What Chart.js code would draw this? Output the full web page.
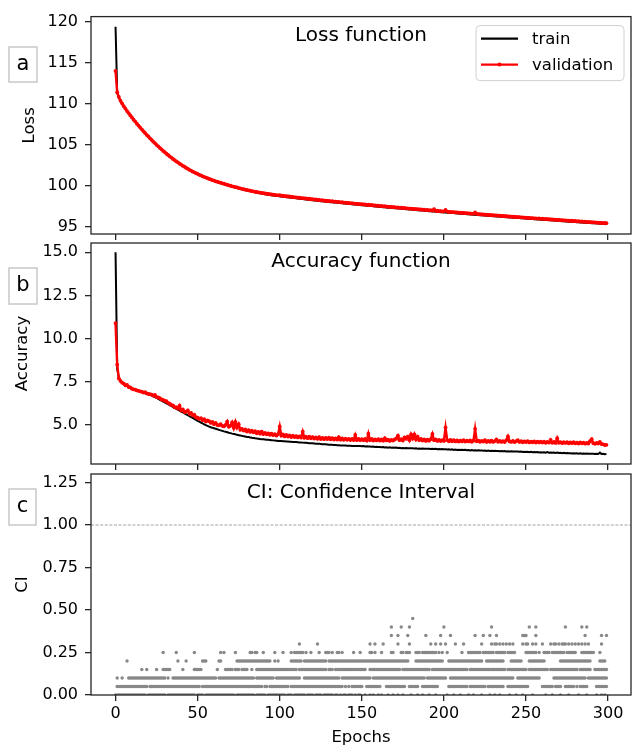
<!DOCTYPE html>
<html>
<head>
<meta charset="utf-8">
<script src="https://cdn.jsdelivr.net/npm/chart.js@4/dist/chart.umd.min.js"></script>
<style>
  html, body { margin: 0; padding: 0; background: #fff; }
  #wrap { position: relative; width: 635px; height: 751px; }
  #wrap canvas { position: absolute; left: 0; top: 0; }
</style>
</head>
<body>
<div id="wrap">
  <canvas id="lossChart" width="635" height="751"></canvas>
  <canvas id="accChart" width="635" height="751"></canvas>
  <canvas id="ciChart" width="635" height="751"></canvas>
</div>
<script>
// one value per epoch (0..299)
const lossTrain = [
  119.4, 111.3, 110.75, 110.35, 110.0, 109.68, 109.38, 109.1, 108.83, 108.56,
  108.3, 108.05, 107.8, 107.55, 107.31, 107.08, 106.85, 106.62, 106.4, 106.19,
  105.98, 105.77, 105.56, 105.36, 105.17, 104.97, 104.78, 104.6, 104.41, 104.24,
  104.06, 103.89, 103.73, 103.56, 103.4, 103.25, 103.09, 102.95, 102.81, 102.67,
  102.54, 102.41, 102.28, 102.15, 102.03, 101.92, 101.81, 101.7, 101.6, 101.5,
  101.4, 101.31, 101.22, 101.13, 101.04, 100.96, 100.88, 100.8, 100.73, 100.65,
  100.58, 100.51, 100.44, 100.38, 100.31, 100.25, 100.19, 100.13, 100.07, 100.01,
  99.95, 99.89, 99.84, 99.78, 99.73, 99.67, 99.62, 99.57, 99.52, 99.47,
  99.42, 99.38, 99.33, 99.29, 99.24, 99.2, 99.16, 99.13, 99.09, 99.05,
  99.02, 98.98, 98.95, 98.92, 98.89, 98.86, 98.83, 98.8, 98.77, 98.75,
  98.72, 98.69, 98.67, 98.64, 98.62, 98.6, 98.57, 98.55, 98.52, 98.5,
  98.47, 98.45, 98.43, 98.4, 98.38, 98.36, 98.33, 98.31, 98.29, 98.26,
  98.24, 98.22, 98.2, 98.18, 98.16, 98.13, 98.11, 98.09, 98.07, 98.05,
  98.03, 98.01, 97.99, 97.97, 97.95, 97.93, 97.91, 97.89, 97.87, 97.85,
  97.83, 97.81, 97.79, 97.77, 97.75, 97.73, 97.71, 97.69, 97.67, 97.65,
  97.64, 97.62, 97.6, 97.58, 97.56, 97.54, 97.53, 97.51, 97.49, 97.47,
  97.45, 97.43, 97.42, 97.4, 97.38, 97.36, 97.34, 97.33, 97.31, 97.29,
  97.27, 97.25, 97.24, 97.22, 97.2, 97.18, 97.17, 97.15, 97.13, 97.11,
  97.1, 97.08, 97.06, 97.05, 97.03, 97.01, 96.99, 96.98, 96.96, 96.94,
  96.93, 96.91, 96.89, 96.88, 96.86, 96.84, 96.83, 96.81, 96.79, 96.78,
  96.76, 96.74, 96.73, 96.71, 96.7, 96.68, 96.67, 96.65, 96.63, 96.62,
  96.6, 96.59, 96.57, 96.56, 96.54, 96.53, 96.51, 96.49, 96.48, 96.46,
  96.45, 96.43, 96.42, 96.4, 96.39, 96.37, 96.36, 96.34, 96.33, 96.31,
  96.3, 96.28, 96.27, 96.25, 96.24, 96.22, 96.21, 96.19, 96.18, 96.16,
  96.15, 96.13, 96.12, 96.1, 96.09, 96.07, 96.06, 96.04, 96.03, 96.01,
  96.0, 95.99, 95.97, 95.96, 95.94, 95.93, 95.91, 95.9, 95.89, 95.87,
  95.86, 95.84, 95.83, 95.82, 95.8, 95.79, 95.77, 95.76, 95.75, 95.73,
  95.72, 95.7, 95.69, 95.68, 95.66, 95.65, 95.63, 95.62, 95.61, 95.59,
  95.58, 95.57, 95.55, 95.54, 95.53, 95.51, 95.5, 95.48, 95.47, 95.46,
  95.44, 95.43, 95.42, 95.4, 95.39, 95.38, 95.36, 95.35, 95.34, 95.32
];

const lossVal = [
  114.0, 111.4, 110.85, 110.38, 110.04, 109.71, 109.42, 109.12, 108.87, 108.58,
  108.34, 108.07, 107.84, 107.57, 107.35, 107.1, 106.89, 106.64, 106.44, 106.21,
  106.02, 105.79, 105.6, 105.38, 105.21, 104.99, 104.82, 104.62, 104.45, 104.26,
  104.1, 103.91, 103.77, 103.58, 103.44, 103.27, 103.14, 102.97, 102.86, 102.7,
  102.59, 102.44, 102.33, 102.18, 102.08, 101.95, 101.86, 101.73, 101.65, 101.53,
  101.46, 101.34, 101.28, 101.16, 101.1, 101.0, 100.94, 100.84, 100.79, 100.69,
  100.64, 100.55, 100.51, 100.42, 100.38, 100.3, 100.26, 100.18, 100.14, 100.06,
  100.02, 99.94, 99.91, 99.84, 99.81, 99.73, 99.7, 99.63, 99.6, 99.53,
  99.51, 99.44, 99.42, 99.35, 99.33, 99.27, 99.25, 99.2, 99.18, 99.13,
  99.11, 99.06, 99.05, 99.0, 98.98, 98.94, 98.93, 98.89, 98.87, 98.84,
  98.85, 98.79, 98.8, 98.74, 98.75, 98.7, 98.7, 98.65, 98.65, 98.6,
  98.6, 98.55, 98.56, 98.5, 98.51, 98.46, 98.46, 98.41, 98.42, 98.36,
  98.37, 98.32, 98.33, 98.28, 98.29, 98.23, 98.24, 98.19, 98.2, 98.15,
  98.16, 98.11, 98.12, 98.07, 98.08, 98.03, 98.04, 97.99, 98.0, 97.95,
  97.96, 97.91, 97.92, 97.87, 97.88, 97.83, 97.84, 97.79, 97.8, 97.75,
  97.77, 97.72, 97.73, 97.68, 97.69, 97.64, 97.66, 97.61, 97.62, 97.57,
  97.58, 97.53, 97.55, 97.5, 97.51, 97.46, 97.47, 97.43, 97.44, 97.39,
  97.4, 97.35, 97.37, 97.32, 97.33, 97.28, 97.3, 97.25, 97.26, 97.21,
  97.23, 97.18, 97.19, 97.15, 97.16, 97.11, 97.12, 97.08, 97.09, 97.04,
  97.06, 97.01, 97.02, 96.98, 97.16, 96.94, 96.96, 96.91, 96.92, 96.88,
  96.89, 97.06, 96.86, 96.81, 96.83, 96.78, 96.8, 96.75, 96.76, 96.72,
  96.73, 96.69, 96.7, 96.66, 96.67, 96.63, 96.64, 96.59, 96.61, 96.76,
  96.58, 96.53, 96.55, 96.5, 96.52, 96.47, 96.49, 96.44, 96.46, 96.41,
  96.43, 96.38, 96.4, 96.35, 96.37, 96.32, 96.34, 96.29, 96.31, 96.26,
  96.28, 96.23, 96.25, 96.2, 96.22, 96.17, 96.19, 96.14, 96.16, 96.11,
  96.13, 96.09, 96.1, 96.06, 96.07, 96.03, 96.04, 96.0, 96.02, 95.97,
  95.99, 95.94, 95.96, 95.92, 95.93, 95.89, 95.9, 95.86, 95.88, 95.83,
  95.85, 95.8, 95.82, 95.78, 95.79, 95.75, 95.76, 95.72, 95.74, 95.69,
  95.71, 95.67, 95.68, 95.64, 95.66, 95.61, 95.63, 95.58, 95.6, 95.56,
  95.57, 95.53, 95.55, 95.5, 95.52, 95.48, 95.49, 95.45, 95.47, 95.45
];

const accTrain = [
  15.0, 8.25, 7.75, 7.55, 7.45, 7.38, 7.32, 7.27, 7.2, 7.14,
  7.08, 7.05, 7.02, 6.99, 6.96, 6.93, 6.9, 6.87, 6.84, 6.81,
  6.78, 6.75, 6.71, 6.67, 6.62, 6.57, 6.52, 6.46, 6.41, 6.36,
  6.31, 6.26, 6.21, 6.15, 6.1, 6.05, 5.99, 5.94, 5.89, 5.83,
  5.78, 5.73, 5.67, 5.62, 5.57, 5.51, 5.46, 5.41, 5.35, 5.3,
  5.24, 5.19, 5.14, 5.09, 5.04, 4.99, 4.95, 4.91, 4.87, 4.84,
  4.81, 4.78, 4.75, 4.72, 4.69, 4.66, 4.63, 4.61, 4.58, 4.55,
  4.53, 4.5, 4.48, 4.46, 4.43, 4.41, 4.39, 4.37, 4.35, 4.33,
  4.31, 4.3, 4.28, 4.26, 4.25, 4.23, 4.22, 4.21, 4.19, 4.18,
  4.17, 4.16, 4.15, 4.14, 4.13, 4.12, 4.11, 4.1, 4.09, 4.08,
  4.08, 4.07, 4.06, 4.06, 4.05, 4.04, 4.03, 4.03, 4.02, 4.01,
  4.01, 4.0, 3.99, 3.99, 3.98, 3.97, 3.97, 3.96, 3.95, 3.95,
  3.94, 3.93, 3.92, 3.92, 3.91, 3.9, 3.89, 3.89, 3.88, 3.87,
  3.86, 3.86, 3.85, 3.84, 3.84, 3.83, 3.83, 3.82, 3.82, 3.81,
  3.81, 3.8, 3.8, 3.8, 3.79, 3.79, 3.79, 3.78, 3.78, 3.78,
  3.77, 3.78, 3.76, 3.77, 3.75, 3.76, 3.74, 3.75, 3.73, 3.74,
  3.72, 3.73, 3.71, 3.72, 3.7, 3.71, 3.69, 3.71, 3.68, 3.69,
  3.68, 3.69, 3.67, 3.68, 3.66, 3.67, 3.66, 3.67, 3.65, 3.66,
  3.65, 3.66, 3.64, 3.65, 3.63, 3.64, 3.63, 3.64, 3.62, 3.63,
  3.62, 3.63, 3.61, 3.62, 3.61, 3.62, 3.6, 3.61, 3.6, 3.61,
  3.59, 3.6, 3.58, 3.59, 3.57, 3.59, 3.56, 3.58, 3.56, 3.57,
  3.55, 3.57, 3.55, 3.56, 3.54, 3.55, 3.53, 3.55, 3.53, 3.54,
  3.52, 3.54, 3.52, 3.53, 3.51, 3.52, 3.5, 3.52, 3.5, 3.51,
  3.5, 3.51, 3.49, 3.5, 3.48, 3.5, 3.48, 3.49, 3.47, 3.48,
  3.47, 3.48, 3.46, 3.47, 3.46, 3.47, 3.45, 3.46, 3.44, 3.45,
  3.44, 3.45, 3.43, 3.45, 3.42, 3.44, 3.42, 3.43, 3.41, 3.42,
  3.41, 3.42, 3.4, 3.43, 3.4, 3.41, 3.39, 3.41, 3.38, 3.4,
  3.38, 3.39, 3.37, 3.39, 3.36, 3.38, 3.36, 3.37, 3.35, 3.37,
  3.35, 3.36, 3.34, 3.36, 3.34, 3.35, 3.33, 3.35, 3.33, 3.34,
  3.33, 3.34, 3.32, 3.33, 3.32, 3.4, 3.32, 3.33, 3.31, 3.32
];

const accVal = [
  10.9, 8.5, 7.7, 7.55, 7.45, 7.4, 7.3, 7.32, 7.2, 7.18,
  7.1, 7.06, 7.05, 7.0, 6.98, 6.95, 6.93, 6.88, 6.9, 6.83,
  6.8, 6.78, 6.76, 6.7, 6.74, 6.62, 6.6, 6.56, 6.48, 6.45,
  6.4, 6.38, 6.28, 6.24, 6.15, 6.14, 6.02, 6.03, 5.95, 6.12,
  5.84, 5.9, 5.75, 5.78, 5.85, 5.65, 5.7, 5.56, 5.6, 5.45,
  5.42, 5.36, 5.4, 5.28, 5.34, 5.2, 5.26, 5.22, 5.12, 5.18,
  5.05, 5.12, 5.0, 4.98, 5.05, 4.95, 4.92, 5.0, 5.2, 4.9,
  4.95, 5.15, 4.82, 5.18, 4.85, 5.05, 4.72, 4.78, 4.68, 4.74,
  4.62, 4.7, 4.6, 4.68, 4.58, 4.64, 4.52, 4.6, 4.5, 4.62,
  4.48, 4.55, 4.46, 4.52, 4.43, 4.5, 4.41, 4.47, 4.39, 4.46,
  4.92, 4.38, 4.45, 4.34, 4.42, 4.33, 4.4, 4.3, 4.38, 4.3,
  4.36, 4.28, 4.34, 4.27, 4.62, 4.26, 4.33, 4.24, 4.32, 4.23,
  4.3, 4.22, 4.28, 4.2, 4.3, 4.19, 4.26, 4.18, 4.25, 4.19,
  4.27, 4.17, 4.24, 4.16, 4.22, 4.16, 4.3, 4.15, 4.22, 4.14,
  4.21, 4.14, 4.2, 4.13, 4.19, 4.13, 4.42, 4.12, 4.2, 4.12,
  4.18, 4.12, 4.2, 4.1, 4.5, 4.12, 4.19, 4.1, 4.17, 4.11,
  4.18, 4.1, 4.16, 4.09, 4.24, 4.11, 4.15, 4.08, 4.14, 4.1,
  4.16, 4.22, 4.38, 4.12, 4.18, 4.1, 4.28, 4.2, 4.33, 4.12,
  4.45, 4.22, 4.46, 4.16, 4.32, 4.12, 4.2, 4.1, 4.16, 4.08,
  4.15, 4.09, 4.18, 4.48, 4.12, 4.16, 4.08, 4.14, 4.07, 4.13,
  4.08, 4.85, 4.12, 4.06, 4.14, 4.06, 4.12, 4.05, 4.11, 4.04,
  4.1, 4.05, 4.12, 4.04, 4.1, 4.05, 4.11, 4.03, 4.09, 4.78,
  4.06, 4.1, 4.03, 4.08, 4.04, 4.12, 4.02, 4.08, 4.03, 4.09,
  4.02, 4.07, 4.16, 4.03, 4.08, 4.02, 4.07, 4.01, 4.12, 4.34,
  4.05, 4.02, 4.08, 4.01, 4.06, 4.12, 4.02, 4.07, 4.0, 4.05,
  4.01, 4.06, 3.99, 4.04, 4.0, 4.05, 3.98, 4.04, 3.99, 4.04,
  3.98, 4.03, 3.97, 4.02, 3.98, 4.14, 3.97, 4.02, 3.96, 4.24,
  3.97, 4.01, 3.95, 4.0, 3.96, 4.01, 3.94, 3.99, 3.95, 4.0,
  3.94, 3.98, 3.93, 3.99, 3.94, 3.98, 3.92, 3.97, 3.93, 4.06,
  4.18, 3.95, 3.91, 3.96, 3.93, 4.02, 3.9, 3.88, 3.84, 3.85
];

// CI values come in steps of 0.05; each mask marks ('#') the epochs with a sample at that level
const ciLevels = [0.00, 0.05, 0.10, 0.15, 0.20, 0.25, 0.30, 0.35, 0.40, 0.45];
const ciMasks = [
  `########## #########. ########## #.######## #########.
   ####.##### ########## ###.###### #####.#### ##.#######
   ####.###.# ######.### #.####.### ###.##.#.# #.###.#.##
   ..#..#.#.. #.#...#..# ..#..#.... #...#..#.. .#...#....
   ..#...#... #....#..#. ...#....#. .#..#..... #...#...#.
   ....#..... ..#...#... .#....#... ..#....#.. ...#..#.#.`,
  `.######### ########## .######### ########## ##########
   ##.####### ########## ########## ########## .##.######
   ######.### ########## ########## #########. #.#.######
   #..####### ##...##### #######..# #####..### #######...
   ...####### #####.#### ######.### #######..# ##########
   ##........ #######.## ##..###### .#.#####.. ...#######`,
  `.#..#...## ########## ########## #.#..##### ##########
   ########## ##.####### ########## #####.#### #######.##
   ########## ###..##### ########## #######.## ##########
   ######.### ########## ########## #########. ##########
   ##..###### ########## ########## ########## ###..#####
   #########. .......### ########## #######.## ##########`,
  `.......... ......#..# .....#...# ####...... .#......##
   ###....... ..#....### ##.###.### #..#..#### ##########
   ########## #.######## #########. ###.###### ##########
   ###..##### ########## ####.##### ########## ##.#######
   ########## #####.#### ########## ########.# ##########
   #.######## ####.##### ########## ##.####### ..########`,
  `.......#.. .......... .......... ........#. ...#......
   ...###.... ...##..... ....###### ########## #####..#.#
   .......### ####.##### #########. ########## ##########
   ########## ########## #########. ...####### ##########
   ...####### ########## ####..#### #######... .#######..
   ..######## ##........ .######### ########## .....####.`,
  `.......... .......... .........# .......#.. ........#.
   .......... ....#.#... ...#...... ..##.##... #......#..
   ..#....#.# #####.#..# ....#...## #.#..##.#. .....#...#
   .....##.#. ..#.....## ....##.### ...###.### ######.#.#
   ..#....... .#...##### ###.###### #.######.# ####......
   #######.#. .####.#### ####.##### #...###### ##...#....`,
  `.......... .......... .......... .......... ..........
   .......... .......... .......... .......... ..........
   .......... ..#....... ...#...... .......... ..........
   .....#..#. ...#...... ..#......# .......... ..#..#..#.
   .#.....#.. ..#....... ...#.....# .##.#.#.#. #.#.....#.
   ##..#.#... #....#.##. #.###.#.#. #.#.#.#.#. ......#...`,
  `.......... .......... .......... .......... ..........
   .......... .......... .......... .......... ..........
   .......... .......... .......... .......... ..........
   .......... ........#. ..#.....#. .........# ........#.
   ....#..... .........# ....#...#. ..#....... ........##
   #.....#... .......... .......... ......#... ......#..#`,
  `.......... .......... .......... .......... ..........
   .......... .......... .......... .......... ..........
   .......... .......... .......... .......... ..........
   .......... ........#. ....#....# .......... ..........
   #......... .......... .........# .......... ..........
   ..#...#... .......... ....#..... ....#..#.. ..........`,
  `.......... .......... .......... .......... ..........
   .......... .......... .......... .......... ..........
   .......... .......... .......... .......... ..........
   .......... .......... .......... .#........ ..........
   .......... .......... .......... .......... ..........
   .......... .......... .......... .......... ..........`
];
const ciThreshold = 1.0;

const xTicks = [0, 50, 100, 150, 200, 250, 300];
const lossTicks = [95, 100, 105, 110, 115, 120];
const accTicks = [5, 7.5, 10, 12.5, 15];
const ciTicks = [0, 0.25, 0.5, 0.75, 1.0, 1.25];

const FONT = "'DejaVu Sans', sans-serif";
Chart.defaults.font.family = FONT;
Chart.defaults.color = '#000';

const toPoints = ys => ys.map((y, i) => ({ x: i, y: y }));

function ciPoints() {
  const pts = [];
  ciMasks.forEach((mask, k) => {
    mask.replace(/\s/g, '').split('').forEach((c, epoch) => {
      if (c === '#') pts.push({ x: epoch, y: ciLevels[k] });
    });
  });
  return pts;
}

// frame, in-axes title, panel letter, legend and reference line
const panelDecor = {
  id: 'panelDecor',
  afterDatasetsDraw(chart, args, opts) {
    const { ctx, chartArea: a } = chart;
    ctx.save();

    if (opts.hline !== undefined) {
      const y = chart.scales.y.getPixelForValue(opts.hline);
      ctx.strokeStyle = '#8c8c8c';
      ctx.lineWidth = 0.8;
      ctx.setLineDash([3, 1.6]);
      ctx.beginPath();
      ctx.moveTo(a.left, y);
      ctx.lineTo(a.right, y);
      ctx.stroke();
      ctx.setLineDash([]);
    }

    ctx.strokeStyle = '#262626';
    ctx.lineWidth = 1.3;
    ctx.strokeRect(a.left, a.top, a.right - a.left, a.bottom - a.top);

    ctx.fillStyle = '#000';
    ctx.font = `20px ${FONT}`;
    ctx.textAlign = 'center';
    ctx.textBaseline = 'alphabetic';
    ctx.fillText(opts.title, (a.left + a.right) / 2, a.top + 24);

    const [bx, by, bw, bh] = opts.box;
    ctx.strokeStyle = '#c8c8c8';
    ctx.lineWidth = 1.5;
    ctx.strokeRect(bx, by, bw, bh);
    ctx.font = `21px ${FONT}`;
    ctx.textBaseline = 'middle';
    ctx.fillText(opts.letter, bx + bw / 2, by + bh / 2);

    if (opts.legend) {
      const lx = a.right - 155, ly = a.top + 9, lw = 148, lh = 55, r = 4;
      ctx.beginPath();
      ctx.moveTo(lx + r, ly);
      ctx.arcTo(lx + lw, ly, lx + lw, ly + lh, r);
      ctx.arcTo(lx + lw, ly + lh, lx, ly + lh, r);
      ctx.arcTo(lx, ly + lh, lx, ly, r);
      ctx.arcTo(lx, ly, lx + lw, ly, r);
      ctx.closePath();
      ctx.fillStyle = 'rgba(255,255,255,0.8)';
      ctx.fill();
      ctx.strokeStyle = '#d0d0d0';
      ctx.lineWidth = 1;
      ctx.stroke();

      ctx.font = `16.5px ${FONT}`;
      ctx.textAlign = 'left';
      chart.data.datasets.forEach((ds, i) => {
        const y = ly + 13 + i * 26;
        ctx.strokeStyle = ds.borderColor;
        ctx.lineWidth = 2.2;
        ctx.beginPath();
        ctx.moveTo(lx + 5, y);
        ctx.lineTo(lx + 42, y);
        ctx.stroke();
        if (ds.pointRadius > 0) {
          ctx.fillStyle = ds.borderColor;
          ctx.beginPath();
          ctx.arc(lx + 23.5, y, 2, 0, Math.PI * 2);
          ctx.fill();
        }
        ctx.fillStyle = '#000';
        ctx.fillText(ds.label, lx + 56, y + 1);
      });
    }
    ctx.restore();
  }
};

const tickGrid = {
  display: true,
  drawOnChartArea: false,
  drawTicks: true,
  tickLength: 6,
  color: '#262626',
  lineWidth: 1.3
};

function panelOptions(p) {
  return {
    responsive: false,
    animation: false,
    devicePixelRatio: 1,
    layout: { padding: { left: 0, right: 2, top: p.top, bottom: p.bottom } },
    plugins: {
      legend: { display: false },
      tooltip: { enabled: false },
      panelDecor: p.decor
    },
    scales: {
      x: {
        type: 'linear',
        min: -14.95,
        max: 313.95,
        afterBuildTicks: s => { s.ticks = xTicks.map(v => ({ value: v })); },
        afterFit: s => { s.height = p.xHeight; },
        grid: tickGrid,
        border: { display: false },
        ticks: { display: p.showX, padding: 3.5, font: { size: 16 }, maxRotation: 0, autoSkip: false },
        title: { display: p.showX, text: 'Epochs', font: { size: 16.5 }, padding: { top: 0, bottom: 3.5 } }
      },
      y: {
        type: 'linear',
        min: p.yMin,
        max: p.yMax,
        afterBuildTicks: s => { s.ticks = p.yTicks.map(v => ({ value: v })); },
        afterFit: s => { s.width = 91; },
        grid: tickGrid,
        border: { display: false },
        ticks: { padding: 7, font: { size: 16 }, autoSkip: false, callback: v => v.toFixed(p.digits) },
        title: { display: true, text: p.yTitle, font: { size: 16.5 }, padding: { top: p.yTitlePad, bottom: 0 } }
      }
    }
  };
}

function trainSet(values) {
  return {
    label: 'train',
    data: toPoints(values),
    borderColor: '#000000',
    borderWidth: 2,
    pointRadius: 0,
    tension: 0,
    order: 1
  };
}

function valSet(values) {
  return {
    label: 'validation',
    data: toPoints(values),
    borderColor: '#ff0000',
    backgroundColor: '#ff0000',
    borderWidth: 2.4,
    pointRadius: 1.9,
    pointBorderWidth: 0,
    pointBackgroundColor: '#ff0000',
    tension: 0,
    order: 0
  };
}

new Chart(document.getElementById('lossChart'), {
  type: 'line',
  data: { datasets: [trainSet(lossTrain), valSet(lossVal)] },
  options: panelOptions({
    top: 13, bottom: 751 - 234 - 10, xHeight: 10, showX: false,
    yMin: 94.124, yMax: 120.636, yTicks: lossTicks, digits: 0,
    yTitle: 'Loss', yTitlePad: 19.4,
    decor: { title: 'Loss function', letter: 'a', box: [9, 47, 28, 35], legend: true }
  }),
  plugins: [panelDecor]
});

new Chart(document.getElementById('accChart'), {
  type: 'line',
  data: { datasets: [trainSet(accTrain), valSet(accVal)] },
  options: panelOptions({
    top: 243, bottom: 751 - 464 - 10, xHeight: 10, showX: false,
    yMin: 2.742, yMax: 15.539, yTicks: accTicks, digits: 1,
    yTitle: 'Accuracy', yTitlePad: 13.1,
    decor: { title: 'Accuracy function', letter: 'b', box: [9, 268, 28, 36] }
  }),
  plugins: [panelDecor]
});

new Chart(document.getElementById('ciChart'), {
  type: 'scatter',
  data: {
    datasets: [{
      label: 'CI',
      data: ciPoints(),
      backgroundColor: '#888888',
      borderWidth: 0,
      pointRadius: 1.7
    }]
  },
  options: panelOptions({
    top: 474, bottom: 0, xHeight: 56, showX: true,
    yMin: 0, yMax: 1.3, yTicks: ciTicks, digits: 2,
    yTitle: 'CI', yTitlePad: 12.4,
    decor: { title: 'CI: Confidence Interval', letter: 'c', box: [9, 489, 27, 36], hline: ciThreshold }
  }),
  plugins: [panelDecor]
});
</script>
</body>
</html>
